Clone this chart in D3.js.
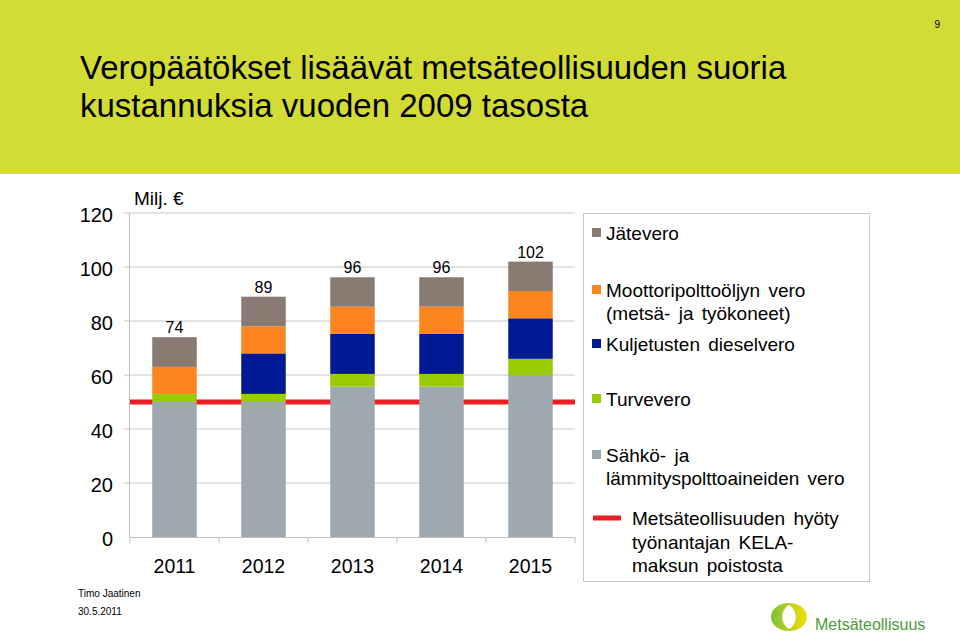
<!DOCTYPE html>
<html>
<head>
<meta charset="utf-8">
<script src="https://cdn.jsdelivr.net/npm/d3@7"></script>
<style>
  html, body { margin: 0; padding: 0; background: #fff; }
  svg { display: block; }
  text { font-family: "Liberation Sans", Arial, Helvetica, sans-serif; fill: #000; }
</style>
</head>
<body>
<svg id="chart" width="960" height="634"></svg>
<script>
// ---- data ----
const years = ["2011", "2012", "2013", "2014", "2015"];
const sahko = [50, 50, 55.7, 55.7, 60];        // Sähkö- ja lämmityspolttoaineiden vero
const turve = [3, 3, 4.7, 4.7, 6];             // Turvevero
const kuljetus = [0, 15, 14.8, 14.8, 15];      // Kuljetusten dieselvero
const moottori = [10, 10, 10.1, 10.1, 10.1];   // Moottoripolttoöljyn vero
const jate = [11, 11, 10.9, 10.9, 10.9];       // Jätevero
const kelaBenefit = 50;                        // Metsäteollisuuden hyöty KELA-maksun poistosta
const yTicks = [0, 20, 40, 60, 80, 100, 120];
const seriesNames = ["Sähkö- ja lämmityspolttoaineiden vero", "Turvevero", "Kuljetusten dieselvero",
                     "Moottoripolttoöljyn vero (metsä- ja työkoneet)", "Jätevero"];
const seriesColors = ["#9ea8b0", "#99cc00", "#001a96", "#fb861f", "#8a7b72"];
const lineColor = "#ec1c24";
const titleLines = ["Veropäätökset lisäävät metsäteollisuuden suoria", "kustannuksia vuoden 2009 tasosta"];
const legendEntries = [
  { lines: ["Jätevero"], color: "#8a7b72", type: "rect" },
  { lines: ["Moottoripolttoöljyn vero", "(metsä- ja työkoneet)"], color: "#fb861f", type: "rect" },
  { lines: ["Kuljetusten dieselvero"], color: "#001a96", type: "rect" },
  { lines: ["Turvevero"], color: "#99cc00", type: "rect" },
  { lines: ["Sähkö- ja", "lämmityspolttoaineiden vero"], color: "#9ea8b0", type: "rect" },
  { lines: ["Metsäteollisuuden hyöty", "työnantajan KELA-", "maksun poistosta"], color: "#ec1c24", type: "line" }
];

const svg = d3.select("#chart");

// ---- header ----
svg.append("rect").attr("x", 0).attr("y", 0).attr("width", 960).attr("height", 174).attr("fill", "#d3dc34");
svg.append("text").attr("x", 940).attr("y", 28).attr("text-anchor", "end")
  .style("font-size", "10px").text("9");
svg.selectAll("text.title").data(titleLines).join("text")
  .attr("class", "title")
  .attr("x", 80)
  .attr("y", (d, i) => 79 + i * 38)
  .style("font-size", "33px")
  .text(d => d);

// ---- scales ----
const plotLeft = 130, plotRight = 575, plotTop = 213, plotBottom = 537;
const x = d3.scaleBand().domain(years).range([plotLeft, plotRight]).paddingInner(0.5).paddingOuter(0.25);
const y = d3.scaleLinear().domain([0, 120]).range([plotBottom, plotTop]);

// gridlines + y ticks
const g = svg.append("g");
g.selectAll("line.grid").data(yTicks.filter(t => t > 0)).join("line")
  .attr("x1", plotLeft - 6).attr("x2", plotRight)
  .attr("y1", d => y(d)).attr("y2", d => y(d))
  .attr("stroke", "#c6c6c6").attr("stroke-width", 1);
// y axis line
g.append("line").attr("x1", plotLeft - 0.5).attr("x2", plotLeft - 0.5)
  .attr("y1", plotTop).attr("y2", plotBottom).attr("stroke", "#c0c0c0");
g.selectAll("text.ytick").data(yTicks).join("text")
  .attr("class", "ytick")
  .attr("x", 113).attr("y", d => y(d) + 9)
  .attr("text-anchor", "end")
  .style("font-size", "20px")
  .text(d => d);

// red KELA line (behind bars)
g.append("line")
  .attr("x1", plotLeft).attr("x2", plotRight)
  .attr("y1", y(kelaBenefit)).attr("y2", y(kelaBenefit))
  .attr("stroke", lineColor).attr("stroke-width", 5);

// stacked bars
const table = years.map((yr, i) => ({ year: yr, s0: sahko[i], s1: turve[i], s2: kuljetus[i], s3: moottori[i], s4: jate[i] }));
const keys = ["s0", "s1", "s2", "s3", "s4"];
const stack = d3.stack().keys(keys)(table);
g.selectAll("g.series").data(stack).join("g")
  .attr("class", "series")
  .attr("fill", (d, i) => seriesColors[i])
  .selectAll("rect").data(d => d).join("rect")
  .attr("x", d => x(d.data.year))
  .attr("width", x.bandwidth())
  .attr("y", d => y(d[1]))
  .attr("height", d => y(d[0]) - y(d[1]));

// totals
g.selectAll("text.total").data(table).join("text")
  .attr("class", "total")
  .attr("x", d => x(d.year) + x.bandwidth() / 2)
  .attr("y", d => y(d.s0 + d.s1 + d.s2 + d.s3 + d.s4) - 4)
  .attr("text-anchor", "middle")
  .style("font-size", "16px")
  .text(d => Math.round(d.s0 + d.s1 + d.s2 + d.s3 + d.s4));

// x axis
g.append("line").attr("x1", plotLeft).attr("x2", plotRight)
  .attr("y1", plotBottom + 0.5).attr("y2", plotBottom + 0.5).attr("stroke", "#c0c0c0");
const boundaries = d3.range(years.length + 1).map(i => plotLeft + i * x.step());
g.selectAll("line.xtick").data(boundaries).join("line")
  .attr("x1", d => d).attr("x2", d => d)
  .attr("y1", plotBottom).attr("y2", plotBottom + 6)
  .attr("stroke", "#c0c0c0");
g.selectAll("text.xlab").data(years).join("text")
  .attr("class", "xlab")
  .attr("x", d => x(d) + x.bandwidth() / 2)
  .attr("y", 573)
  .attr("text-anchor", "middle")
  .style("font-size", "19.5px")
  .text(d => d);

// unit label
svg.append("text").attr("x", 134).attr("y", 205).style("font-size", "19px").text("Milj. €");

// ---- legend ----
const lg = svg.append("g");
lg.append("rect").attr("x", 583.5).attr("y", 213.5).attr("width", 286).attr("height", 368)
  .attr("fill", "none").attr("stroke", "#c8c8c8");
const entryY = [[233], [290, 313], [344], [399], [455, 478], [518, 542, 565]];
legendEntries.forEach((e, i) => {
  const ys = entryY[i];
  if (e.type === "rect") {
    lg.append("rect").attr("x", 592).attr("y", ys[0] - 5).attr("width", 9).attr("height", 9).attr("fill", e.color);
  } else {
    lg.append("line").attr("x1", 593).attr("x2", 621).attr("y1", ys[0]).attr("y2", ys[0])
      .attr("stroke", e.color).attr("stroke-width", 5);
  }
  const tx = e.type === "rect" ? 606 : 632;
  e.lines.forEach((ln, j) => {
    lg.append("text").attr("x", tx).attr("y", ys[j] + 7)
      .style("font-size", "19px").style("word-spacing", "3px").text(ln);
  });
});

// ---- footer ----
svg.append("text").attr("x", 78).attr("y", 597).style("font-size", "10px").text("Timo Jaatinen");
svg.append("text").attr("x", 78).attr("y", 615).style("font-size", "10px").text("30.5.2011");

// logo
const defs = svg.append("defs");
const grad = defs.append("linearGradient").attr("id", "logoGrad").attr("x1", "0").attr("x2", "1").attr("y1", "0").attr("y2", "0");
grad.append("stop").attr("offset", "0%").attr("stop-color", "#7fbf3f");
grad.append("stop").attr("offset", "100%").attr("stop-color", "#f2e200");
svg.append("ellipse").attr("cx", 789).attr("cy", 617).attr("rx", 18).attr("ry", 14).attr("fill", "url(#logoGrad)");
svg.append("path")
  .attr("d", "M789,605 C798,610 798,624 789,629 C780,624 780,610 789,605 Z")
  .attr("fill", "#fff");
svg.append("text").attr("x", 815).attr("y", 630).style("font-size", "16px").style("fill", "#4e9a3a").text("Metsäteollisuus");
</script>
</body>
</html>
